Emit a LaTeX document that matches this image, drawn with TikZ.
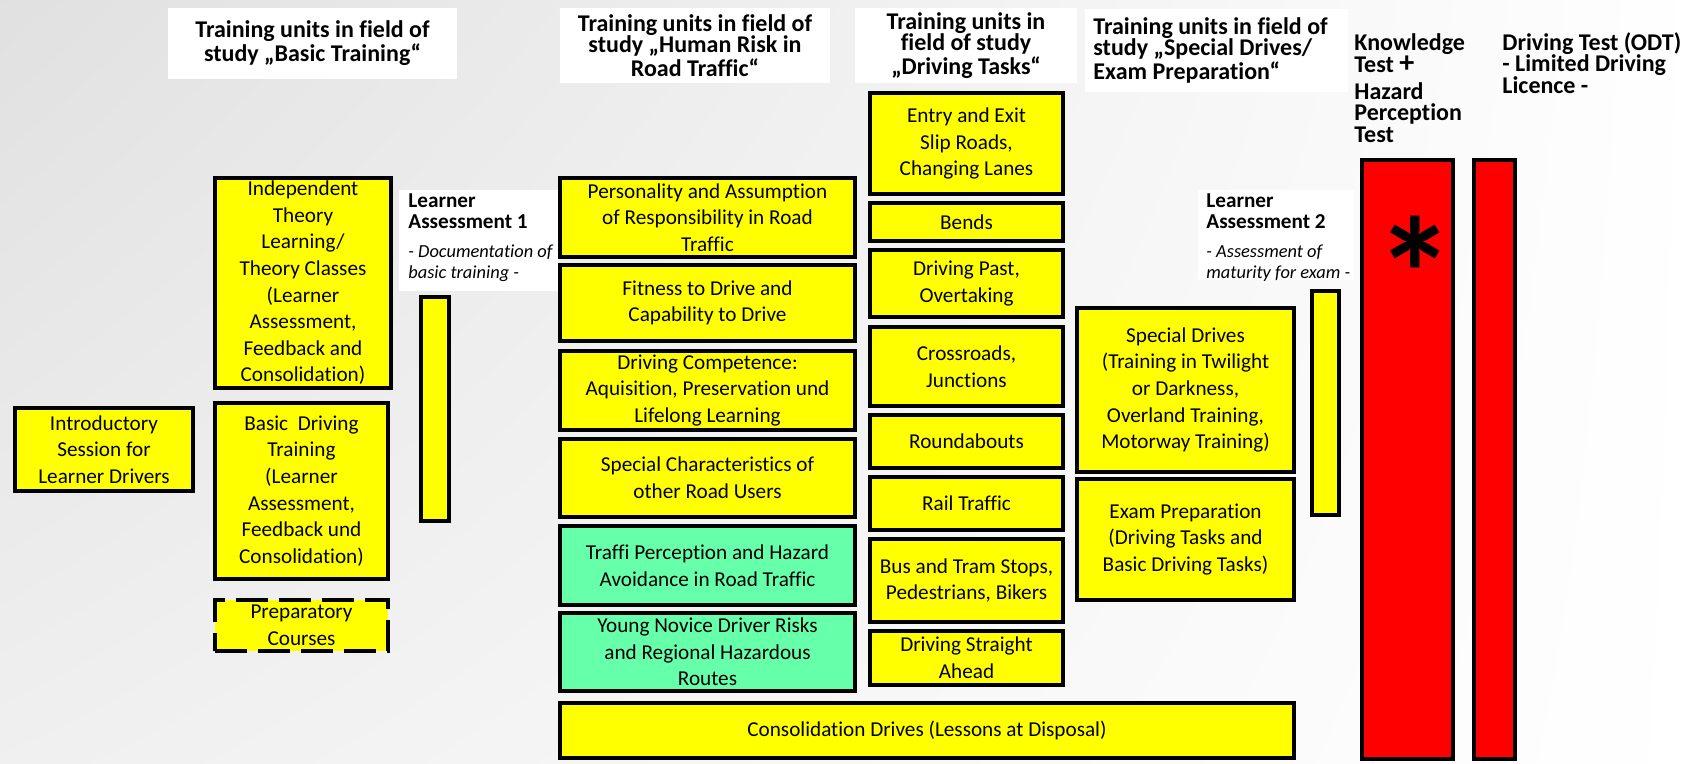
\documentclass[tikz,border=0pt]{standalone}
\usepackage{fontspec}
\setmainfont{Carlito}[Ligatures=NoCommon]
\usetikzlibrary{shadings}
\definecolor{ylw}{HTML}{FFFF00}
\definecolor{grn}{HTML}{66FFAA}
\definecolor{rd}{HTML}{FF0000}
\begin{document}
\begin{tikzpicture}[x=0.5pt,y=-0.5pt,
  box/.style={draw=black, line width=2pt, fill=ylw, inner sep=0pt, align=center, font=\fontsize{10.6}{13.3}\selectfont},
  gbox/.style={box, fill=grn},
  rbox/.style={box, fill=rd},
  wh/.style 2 args={minimum width={(#1-4)*0.5pt}, minimum height={(#2-4)*0.5pt}},
  whn/.style 2 args={minimum width={#1*0.5pt}, minimum height={#2*0.5pt}},
  hd/.style={fill=white, inner sep=0pt, align=center, font=\fontsize{12}{10.5}\selectfont\bfseries},
  hdtxt/.style={inner sep=0pt, align=left, font=\fontsize{12}{10.75}\selectfont\bfseries},
  wbg/.style={fill=white, inner sep=0pt},
  la/.style={inner sep=0pt, align=left, font=\fontsize{10.6}{10.5}\selectfont},
]
\useasboundingbox (0,0) rectangle (1703,764);
\shade[upper left=black!12, upper right=white, lower left=black!6, lower right=white] (0,0) rectangle (1703,764);

% headers
\node[hd, whn={289}{71}] (h1) at (312.5,43.5) {Training units in field of\\study „Basic Training“};
\node[hd, whn={270}{75}] (h2) at (695,45.5) {Training units in field of\\study „Human Risk in\\Road Traffic“};
\node[hd, whn={222}{75}] (h3) at (966,45.5) {Training units in\\field of study\\„Driving Tasks“};
\node[wbg, whn={263}{83}] (h4bg) at (1216.5,50.5) {};
\node[hdtxt, font=\fontsize{12}{10.5}\selectfont\bfseries, anchor=west] (h4) at (1093,50.5) {Training units in field of\\study „Special Drives/\\Exam Preparation“};
\node[hdtxt, anchor=north west, font=\fontsize{12}{11}\selectfont\bfseries] (kt1) at (1354,33) {Knowledge\\Test \smash{\fontsize{15}{11}\selectfont +}};
\node[hdtxt, anchor=north west] (kt2) at (1354,82) {Hazard\\Perception\\Test};
\node[hdtxt, anchor=north west] (odt) at (1502,32) {Driving Test (ODT)\\- Limited Driving\\Licence -};

% basic training
\node[box, wh={182}{87}] (intro) at (104,449.5) {Introductory\\Session for\\Learner Drivers};
\node[box, wh={180}{214}] (indep) at (303,283) {Independent\\Theory\\Learning/\\Theory Classes\\(Learner\\Assessment,\\Feedback and\\Consolidation)};
\node[box, wh={177}{180}] (basic) at (301.5,491) {Basic\ \ Driving\\Training\\(Learner\\Assessment,\\Feedback und\\Consolidation)};
\node[box, wh={177}{55}, dash pattern=on 16pt off 5.5pt] (prep) at (301.5,625.5) {Preparatory\\Courses};

% learner assessment 1
\node[wbg, whn={160}{101}] (la1bg) at (479,240.5) {};
\node[box, wh={32}{228}] (bar1) at (435,409) {};
\node[la, anchor=west] (la1) at (408,237.5) {\textbf{Learner}\\\textbf{Assessment 1}\\[4pt]{\fontsize{9.2}{10.5}\selectfont\itshape - Documentation of}\\{\fontsize{9.2}{10.5}\selectfont\itshape basic training -}};

% human risk
\node[box, wh={299}{83}] (pers) at (707.5,217.5) {Personality and Assumption\\of Responsibility in Road\\Traffic};
\node[box, wh={299}{80}] (fit) at (707.5,303) {Fitness to Drive and\\Capability to Drive};
\node[box, wh={299}{83}] (comp) at (707.5,390.5) {Driving Competence:\\Aquisition, Preservation und\\Lifelong Learning};
\node[box, wh={299}{82}] (spec) at (707.5,478) {Special Characteristics of\\other Road Users};
\node[gbox, wh={299}{83}] (traffi) at (707.5,565.5) {Traffi Perception and Hazard\\Avoidance in Road Traffic};
\node[gbox, wh={299}{82}] (young) at (707.5,652) {Young Novice Driver Risks\\and Regional Hazardous\\Routes};
\node[box, wh={738}{59}] (consol) at (927,730.5) {Consolidation Drives (Lessons at Disposal)};

% driving tasks
\node[box, wh={197}{105}] (entry) at (966.5,143.5) {Entry and Exit\\Slip Roads,\\Changing Lanes};
\node[box, wh={197}{42}] (bends) at (966.5,222) {Bends};
\node[box, wh={197}{71}] (past) at (966.5,283.5) {Driving Past,\\Overtaking};
\node[box, wh={197}{83}] (cross) at (966.5,366.5) {Crossroads,\\Junctions};
\node[box, wh={197}{57}] (round) at (966.5,441.5) {Roundabouts};
\node[box, wh={197}{57}] (rail) at (966.5,503.5) {Rail Traffic};
\node[box, wh={197}{87}] (bus) at (966.5,580.5) {Bus and Tram Stops,\\Pedestrians, Bikers};
\node[box, wh={197}{58}] (straight) at (966.5,658) {Driving Straight\\Ahead};

% special drives / exam
\node[box, wh={221}{168}] (sdrives) at (1185.5,390) {Special Drives\\(Training in Twilight\\or Darkness,\\Overland Training,\\Motorway Training)};
\node[box, wh={221}{125}] (exam) at (1185.5,539.5) {Exam Preparation\\(Driving Tasks and\\Basic Driving Tasks)};

% learner assessment 2
\node[wbg, whn={156}{90}] (la2bg) at (1276,235) {};
\node[box, wh={31}{228}] (bar2) at (1325.5,403) {};
\node[la, anchor=west] (la2) at (1206,237.5) {\textbf{Learner}\\\textbf{Assessment 2}\\[4pt]{\fontsize{9.2}{10.5}\selectfont\itshape - Assessment of}\\{\fontsize{9.2}{10.5}\selectfont\itshape maturity for exam -}};

% tests
\node[rbox, wh={95}{603}] (red1) at (1407.5,459.5) {};
\node[rbox, wh={45}{603}] (red2) at (1494.5,459.5) {};
\node[inner sep=0pt, font=\fontsize{80}{80}\selectfont\bfseries] (star) at (1415,273.5) {*};
\end{tikzpicture}
\end{document}
